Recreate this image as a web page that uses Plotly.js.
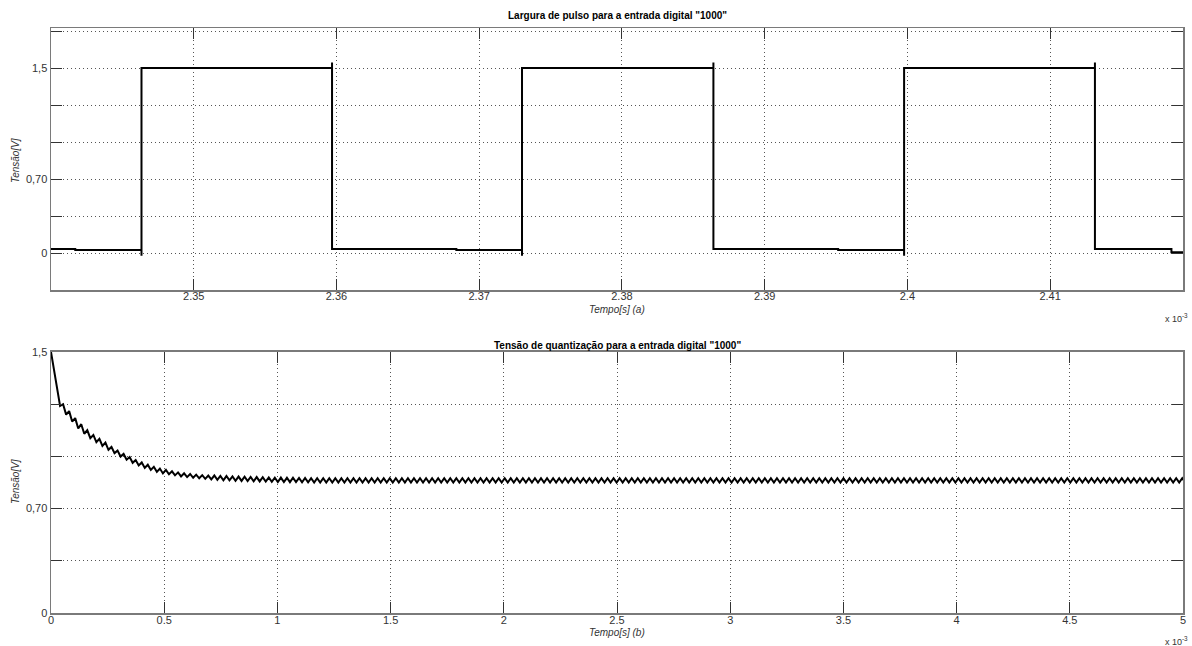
<!DOCTYPE html>
<html><head><meta charset="utf-8">
<script src="https://cdn.plot.ly/plotly-3.0.1.min.js"></script>
<style>html,body{margin:0;padding:0;background:#fff}#chart{width:1192px;height:646px}</style>
</head><body><div id="chart"></div>
<script>
// ---------- Top panel: PWM pulse for digital input "1000" (time in 1e-3 s) ----------
const pulseTime = [
  2.34000, 2.34170, 2.34170, 2.34634, 2.34634, 2.34634,
  2.35969, 2.35969, 2.35969, 2.36840, 2.36840, 2.37300, 2.37300, 2.37300,
  2.38641, 2.38641, 2.38641, 2.39515, 2.39515, 2.39977, 2.39977, 2.39977,
  2.41314, 2.41314, 2.41314, 2.41850, 2.41850, 2.41931
];
const pulseVolt = [
  0.032, 0.032, 0.024, 0.024, -0.022, 1.500,
  1.500, 1.546, 0.032, 0.032, 0.024, 0.024, -0.022, 1.500,
  1.500, 1.546, 0.032, 0.032, 0.024, 0.024, -0.022, 1.500,
  1.500, 1.546, 0.032, 0.032, 0.006, 0.006
];
const topXTicks  = [2.35, 2.36, 2.37, 2.38, 2.39, 2.40, 2.41];
const topXLabels = ['2.35', '2.36', '2.37', '2.38', '2.39', '2.4', '2.41'];
const topYTicks  = [0, 0.3, 0.6, 0.9, 1.2, 1.5, 1.8];
const topYLabels = ['0', '', '0,70', '', '', '1,5', ''];

// ---------- Bottom panel: quantization voltage (filter output) ----------
// one sample at the end of every half PWM period
const quantStep = 0.01336; // sample interval, 1e-3 s
const quantVolt = [
  1.500, 1.400, 1.300, 1.190, 1.200, 1.140, 1.160, 1.100, 1.120, 1.060,
  1.085, 1.030, 1.050, 1.005, 1.023, 0.982, 1.001, 0.960, 0.979, 0.938,
  0.954, 0.919, 0.933, 0.899, 0.914, 0.881, 0.896, 0.863, 0.879, 0.848,
  0.865, 0.834, 0.852, 0.822, 0.840, 0.811, 0.830, 0.802, 0.822, 0.797,
  0.814, 0.791, 0.808, 0.785, 0.803, 0.781, 0.799, 0.777, 0.795, 0.774,
  0.792, 0.771, 0.790, 0.768, 0.790, 0.765, 0.788, 0.763, 0.787, 0.762,
  0.785, 0.760, 0.784, 0.759, 0.783, 0.758, 0.782, 0.757, 0.781, 0.756,
  0.780, 0.755, 0.779, 0.754, 0.778, 0.753, 0.778, 0.753, 0.777, 0.752,
  0.777, 0.752, 0.776, 0.751, 0.776, 0.751, 0.775, 0.750, 0.775, 0.750,
  0.775, 0.750, 0.775, 0.750, 0.775, 0.750, 0.775, 0.750, 0.775, 0.750,
  0.775, 0.750, 0.775, 0.750, 0.775, 0.750, 0.775, 0.750, 0.775, 0.750,
  0.775, 0.750, 0.775, 0.750, 0.775, 0.750, 0.775, 0.750, 0.775, 0.750,
  0.775, 0.750, 0.775, 0.750, 0.775, 0.750, 0.775, 0.750, 0.775, 0.750,
  0.775, 0.750, 0.775, 0.750, 0.775, 0.750, 0.775, 0.750, 0.775, 0.750,
  0.775, 0.750, 0.775, 0.750, 0.775, 0.750, 0.775, 0.750, 0.775, 0.750,
  0.775, 0.750, 0.775, 0.750, 0.775, 0.750, 0.775, 0.750, 0.775, 0.750,
  0.775, 0.750, 0.775, 0.750, 0.775, 0.750, 0.775, 0.750, 0.775, 0.750,
  0.775, 0.750, 0.775, 0.750, 0.775, 0.750, 0.775, 0.750, 0.775, 0.750,
  0.775, 0.750, 0.775, 0.750, 0.775, 0.750, 0.775, 0.750, 0.775, 0.750,
  0.775, 0.750, 0.775, 0.750, 0.775, 0.750, 0.775, 0.750, 0.775, 0.750,
  0.775, 0.750, 0.775, 0.750, 0.775, 0.750, 0.775, 0.750, 0.775, 0.750,
  0.775, 0.750, 0.775, 0.750, 0.775, 0.750, 0.775, 0.750, 0.775, 0.750,
  0.775, 0.750, 0.775, 0.750, 0.775, 0.750, 0.775, 0.750, 0.775, 0.750,
  0.775, 0.750, 0.775, 0.750, 0.775, 0.750, 0.775, 0.750, 0.775, 0.750,
  0.775, 0.750, 0.775, 0.750, 0.775, 0.750, 0.775, 0.750, 0.775, 0.750,
  0.775, 0.750, 0.775, 0.750, 0.775, 0.750, 0.775, 0.750, 0.775, 0.750,
  0.775, 0.750, 0.775, 0.750, 0.775, 0.750, 0.775, 0.750, 0.775, 0.750,
  0.775, 0.750, 0.775, 0.750, 0.775, 0.750, 0.775, 0.750, 0.775, 0.750,
  0.775, 0.750, 0.775, 0.750, 0.775, 0.750, 0.775, 0.750, 0.775, 0.750,
  0.775, 0.750, 0.775, 0.750, 0.775, 0.750, 0.775, 0.750, 0.775, 0.750,
  0.775, 0.750, 0.775, 0.750, 0.775, 0.750, 0.775, 0.750, 0.775, 0.750,
  0.775, 0.750, 0.775, 0.750, 0.775, 0.750, 0.775, 0.750, 0.775, 0.750,
  0.775, 0.750, 0.775, 0.750, 0.775, 0.750, 0.775, 0.750, 0.775, 0.750,
  0.775, 0.750, 0.775, 0.750, 0.775, 0.750, 0.775, 0.750, 0.775, 0.750,
  0.775, 0.750, 0.775, 0.750, 0.775, 0.750, 0.775, 0.750, 0.775, 0.750,
  0.775, 0.750, 0.775, 0.750, 0.775, 0.750, 0.775, 0.750, 0.775, 0.750,
  0.775, 0.750, 0.775, 0.750, 0.775, 0.750, 0.775, 0.750, 0.775, 0.750,
  0.775, 0.750, 0.775, 0.750, 0.775, 0.750
];
const botXTicks  = [0, 0.5, 1, 1.5, 2, 2.5, 3, 3.5, 4, 4.5, 5];
const botXLabels = ['0', '0.5', '1', '1.5', '2', '2.5', '3', '3.5', '4', '4.5', '5'];
const botYTicks  = [0, 0.3, 0.6, 0.9, 1.2, 1.5];
const botYLabels = ['0', '', '0,70', '', '', '1,5'];

const topTitle = 'Largura de pulso para a entrada digital "1000"';
const botTitle = 'Tensão de quantização para a entrada digital "1000"';
const topXTitle = 'Tempo[s] (a)';
const botXTitle = 'Tempo[s] (b)';
const yTitle = 'Tensão[V]';
const scaleLabel = 'x 10<sup>-3</sup>';

// ---------- drawing ----------
const quantTime = quantVolt.map((v, i) => i * quantStep);
const FONT = 'Liberation Sans, Arial, Helvetica, sans-serif';

const traces = [
  {x: pulseTime, y: pulseVolt, xaxis: 'x', yaxis: 'y', type: 'scatter', mode: 'lines',
   line: {color: '#000', width: 2}, hoverinfo: 'skip'},
  {x: quantTime, y: quantVolt, xaxis: 'x2', yaxis: 'y2', type: 'scatter', mode: 'lines',
   line: {color: '#000', width: 2}, hoverinfo: 'skip', cliponaxis: true}
];

const ax = {
  showline: true, mirror: 'allticks', linecolor: '#7a7a7a', linewidth: 1.5,
  ticks: 'inside', ticklen: 11, tickwidth: 1, tickcolor: '#333',
  showgrid: true, gridcolor: '#555', gridwidth: 1, griddash: '1px,3px',
  zeroline: false, tickmode: 'array', fixedrange: true,
  tickfont: {family: FONT, size: 11, color: '#333'}
};

const layout = {
  width: 1192, height: 646,
  margin: {l: 51, r: 9, t: 28, b: 33},
  paper_bgcolor: '#fff', plot_bgcolor: '#fff', showlegend: false,
  xaxis: Object.assign({}, ax, {domain: [0, 1], anchor: 'y', range: [2.34, 2.41931],
    tickvals: topXTicks, ticktext: topXLabels, ticklabelstandoff: -5}),
  yaxis: Object.assign({}, ax, {domain: [0.5521, 1], anchor: 'x', range: [-0.3, 1.825],
    tickvals: topYTicks, ticktext: topYLabels}),
  xaxis2: Object.assign({}, ax, {domain: [0, 1], anchor: 'y2', range: [0, 5],
    tickvals: botXTicks, ticktext: botXLabels, ticklabelstandoff: -4}),
  yaxis2: Object.assign({}, ax, {domain: [0, 0.4462], anchor: 'x2', range: [0, 1.5],
    tickvals: botYTicks, ticktext: botYLabels}),
  annotations: [
    {text: '<b>' + topTitle + '</b>', xref: 'paper', yref: 'paper', x: 0.5, y: 1.0222,
     xanchor: 'center', yanchor: 'middle', showarrow: false, font: {family: FONT, size: 10, color: '#000'}},
    {text: '<b>' + botTitle + '</b>', xref: 'paper', yref: 'paper', x: 0.5, y: 0.4581,
     xanchor: 'center', yanchor: 'middle', showarrow: false, font: {family: FONT, size: 10, color: '#000'}},
    {text: '<i>' + topXTitle + '</i>', xref: 'paper', yref: 'paper', x: 0.5, y: 0.5180,
     xanchor: 'center', yanchor: 'middle', showarrow: false, font: {family: FONT, size: 10, color: '#333'}},
    {text: '<i>' + botXTitle + '</i>', xref: 'paper', yref: 'paper', x: 0.5, y: -0.0340,
     xanchor: 'center', yanchor: 'middle', showarrow: false, font: {family: FONT, size: 10, color: '#333'}},
    {text: '<i>' + yTitle + '</i>', xref: 'paper', yref: 'paper', x: -0.0318, y: 0.7726, textangle: -90,
     xanchor: 'center', yanchor: 'middle', showarrow: false, font: {family: FONT, size: 10, color: '#333'}},
    {text: '<i>' + yTitle + '</i>', xref: 'paper', yref: 'paper', x: -0.0318, y: 0.2239, textangle: -90,
     xanchor: 'center', yanchor: 'middle', showarrow: false, font: {family: FONT, size: 10, color: '#333'}},
    {text: scaleLabel, xref: 'paper', yref: 'paper', x: 1.0062, y: 0.5043,
     xanchor: 'right', yanchor: 'middle', showarrow: false, font: {family: FONT, size: 9, color: '#333'}},
    {text: scaleLabel, xref: 'paper', yref: 'paper', x: 1.0062, y: -0.0480,
     xanchor: 'right', yanchor: 'middle', showarrow: false, font: {family: FONT, size: 9, color: '#333'}}
  ]
};

Plotly.newPlot('chart', traces, layout, {displayModeBar: false, staticPlot: true});
</script>
</body></html>
